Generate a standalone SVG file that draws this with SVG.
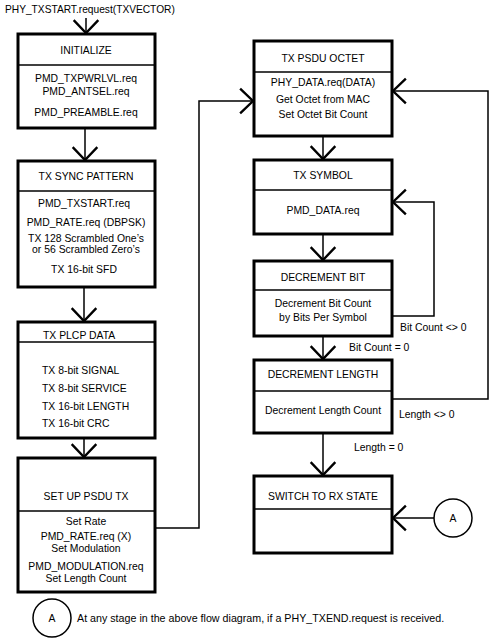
<svg xmlns="http://www.w3.org/2000/svg" width="492" height="640" viewBox="0 0 492 640">
<style>
text{font-family:"Liberation Sans",Arial,sans-serif;font-size:10.4px;fill:#000}
.c{text-anchor:middle}
.box{fill:#fff;stroke:#000;stroke-width:3}
.div{stroke:#000;stroke-width:1.5}
.ln{fill:none;stroke:#000;stroke-width:1.5}
</style>
<defs>
<marker id="ah" markerUnits="userSpaceOnUse" markerWidth="30" markerHeight="30" viewBox="-14 -14 28 28" refX="0" refY="0" orient="auto">
<path d="M-12,-11.5 L0,0 L-12,11.5" fill="none" stroke="#000" stroke-width="2.2"/>
</marker>
</defs>
<rect width="492" height="640" fill="#fff"/>
<text x="5" y="13" style="font-size:10.2px">PHY_TXSTART.request(TXVECTOR)</text>
<g id="connectors">
<path class="ln" d="M86,18 V33" marker-end="url(#ah)"/>
<path class="ln" d="M85,128 V160" marker-end="url(#ah)"/>
<path class="ln" d="M84,287 V321" marker-end="url(#ah)"/>
<path class="ln" d="M84,438 V457" marker-end="url(#ah)"/>
<path class="ln" d="M155,528 H199 V101 H253" marker-end="url(#ah)"/>
<path class="ln" d="M323,136 V159" marker-end="url(#ah)"/>
<path class="ln" d="M323,234 V260" marker-end="url(#ah)"/>
<path class="ln" d="M392,316 H434 V202 H393" marker-end="url(#ah)"/>
<path class="ln" d="M323,336 V359" marker-end="url(#ah)"/>
<path class="ln" d="M392,399 H488 V91 H393" marker-end="url(#ah)"/>
<path class="ln" d="M323,433 V475" marker-end="url(#ah)"/>
<path class="ln" d="M434,518 H393" marker-end="url(#ah)"/>
<text x="400" y="331">Bit Count &lt;&gt; 0</text>
<text x="349" y="351">Bit Count = 0</text>
<text x="399" y="418">Length &lt;&gt; 0</text>
<text x="354" y="451">Length = 0</text>
</g>
<g id="initialize">
<rect class="box" x="18" y="34" width="137" height="94"/>
<line class="div" x1="18" y1="65" x2="155" y2="65"/>
<text class="c" x="86" y="54">INITIALIZE</text>
<text class="c" x="86" y="82">PMD_TXPWRLVL.req</text>
<text class="c" x="86" y="95">PMD_ANTSEL.req</text>
<text class="c" x="86" y="116">PMD_PREAMBLE.req</text>
</g>
<g id="tx-sync">
<rect class="box" x="18" y="161" width="137" height="126"/>
<line class="div" x1="18" y1="191" x2="155" y2="191"/>
<text class="c" x="86" y="180">TX SYNC PATTERN</text>
<text class="c" x="84" y="207">PMD_TXSTART.req</text>
<text class="c" x="86" y="226">PMD_RATE.req (DBPSK)</text>
<text class="c" x="86" y="241.5">TX 128 Scrambled One’s</text>
<text class="c" x="86" y="252.5">or 56 Scrambled Zero’s</text>
<text class="c" x="84" y="273">TX 16-bit SFD</text>
</g>
<g id="tx-plcp">
<rect class="box" x="18" y="322" width="137" height="116"/>
<line class="div" x1="18" y1="342" x2="155" y2="342"/>
<text x="43" y="339">TX PLCP DATA</text>
<text x="42" y="374">TX 8-bit SIGNAL</text>
<text x="42" y="392">TX 8-bit SERVICE</text>
<text x="42" y="410">TX 16-bit LENGTH</text>
<text x="42" y="427">TX 16-bit CRC</text>
</g>
<g id="setup-psdu">
<rect class="box" x="18" y="458" width="137" height="134"/>
<line class="div" x1="18" y1="511" x2="155" y2="511"/>
<text class="c" x="86" y="500">SET UP PSDU TX</text>
<text class="c" x="86" y="525">Set Rate</text>
<text class="c" x="86" y="540">PMD_RATE.req (X)</text>
<text class="c" x="86" y="552">Set Modulation</text>
<text class="c" x="86" y="570">PMD_MODULATION.req</text>
<text class="c" x="86" y="582">Set Length Count</text>
</g>
<g id="tx-psdu-octet">
<rect class="box" x="254" y="41" width="138" height="95"/>
<line class="div" x1="254" y1="72" x2="392" y2="72"/>
<text class="c" x="323" y="62">TX PSDU OCTET</text>
<text class="c" x="323" y="86">PHY_DATA.req(DATA)</text>
<text class="c" x="323" y="103">Get Octet from MAC</text>
<text class="c" x="323" y="118">Set Octet Bit Count</text>
</g>
<g id="tx-symbol">
<rect class="box" x="254" y="160" width="138" height="74"/>
<line class="div" x1="254" y1="190" x2="392" y2="190"/>
<text class="c" x="323" y="179">TX SYMBOL</text>
<text class="c" x="323" y="214">PMD_DATA.req</text>
</g>
<g id="decrement-bit">
<rect class="box" x="254" y="261" width="138" height="75"/>
<line class="div" x1="254" y1="290" x2="392" y2="290"/>
<text class="c" x="323" y="281">DECREMENT BIT</text>
<text class="c" x="323" y="307">Decrement Bit Count</text>
<text class="c" x="323" y="321">by Bits Per Symbol</text>
</g>
<g id="decrement-length">
<rect class="box" x="254" y="360" width="138" height="73"/>
<line class="div" x1="254" y1="391" x2="392" y2="391"/>
<text class="c" x="323" y="378">DECREMENT LENGTH</text>
<text class="c" x="323" y="414">Decrement Length Count</text>
</g>
<g id="switch-rx">
<rect class="box" x="254" y="476" width="138" height="77"/>
<line class="div" x1="254" y1="509" x2="392" y2="509"/>
<text class="c" x="323" y="500">SWITCH TO RX STATE</text>
</g>
<g id="circle-a-right">
<circle cx="453" cy="518" r="19" fill="#fff" stroke="#000" stroke-width="1.5"/>
<text class="c" x="453" y="522">A</text>
</g>
<g id="legend">
<circle cx="52" cy="618" r="19" fill="#fff" stroke="#000" stroke-width="1.5"/>
<text class="c" x="52" y="622">A</text>
<text x="77" y="622" style="font-size:10.7px">At any stage in the above flow diagram, if a PHY_TXEND.request is received.</text>
</g>
</svg>
